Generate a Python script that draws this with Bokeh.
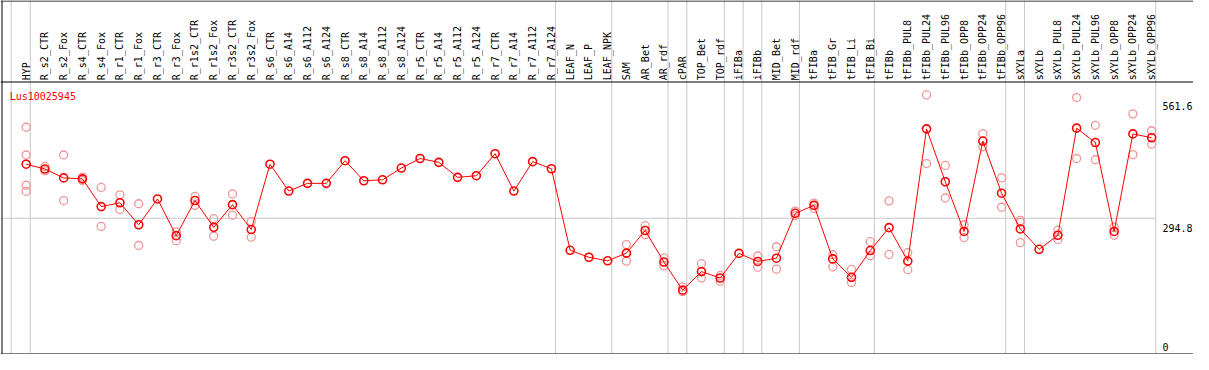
import numpy as np
from bokeh.plotting import figure
from bokeh.models import Range1d
from bokeh.core.properties import value
from bokeh.embed import file_html
from bokeh.resources import INLINE

# ---------------- data ----------------
gene = "Lus10025945"
categories = [
    "HYP", "R_s2_CTR", "R_s2_Fox", "R_s4_CTR", "R_s4_Fox", "R_r1_CTR", "R_r1_Fox",
    "R_r3_CTR", "R_r3_Fox", "R_r1s2_CTR", "R_r1s2_Fox", "R_r3s2_CTR", "R_r3s2_Fox",
    "R_s6_CTR", "R_s6_A14", "R_s6_A112", "R_s6_A124", "R_s8_CTR", "R_s8_A14",
    "R_s8_A112", "R_s8_A124", "R_r5_CTR", "R_r5_A14", "R_r5_A112", "R_r5_A124",
    "R_r7_CTR", "R_r7_A14", "R_r7_A112", "R_r7_A124", "LEAF_N", "LEAF_P", "LEAF_NPK",
    "SAM", "AR_Bet", "AR_rdf", "cPAR", "TOP_Bet", "TOP_rdf", "iFIBa", "iFIBb",
    "MID_Bet", "MID_rdf", "tFIBa", "tFIB_Gr", "tFIB_Li", "tFIB_Bi", "tFIBb",
    "tFIBb_PUL8", "tFIBb_PUL24", "tFIBb_PUL96", "tFIBb_OPP8", "tFIBb_OPP24",
    "tFIBb_OPP96", "sXYLa", "sXYLb", "sXYLb_PUL8", "sXYLb_PUL24", "sXYLb_PUL96",
    "sXYLb_OPP8", "sXYLb_OPP24", "sXYLb_OPP96",
]
group_sizes = [1, 28, 3, 3, 1, 2, 1, 1, 2, 4, 7, 1, 7]

means = [
    411.7, 401.3, 382.1, 380.0, 320.0, 328.3, 280.7, 336.6, 257.1, 333.1, 275.1,
    324.2, 270.4, 411.7, 353.7, 370.3, 370.3, 419.3, 375.9, 378.0, 403.4, 424.1,
    415.8, 383.3, 386.8, 434.4, 353.7, 417.3, 401.9, 225.5, 210.4, 202.7, 219.3,
    268.3, 200.0, 139.2, 179.4, 165.5, 218.7, 201.3, 208.3, 305.5, 322.7, 206.9,
    166.9, 224.9, 274.5, 202.1, 488.2, 373.8, 266.2, 461.9, 349.0, 271.6, 227.6,
    258.0, 489.7, 458.6, 266.2, 477.3, 469.0,
]
replicates = [
    [491.7, 431.7, 366.2, 353.1], [406.9, 397.2], [431.7, 333.1], [383.7, 376.5],
    [361.4, 277.2], [345.5, 313.8], [326.2, 235.8], [], [265.4, 246.2],
    [342.0, 322.7], [293.8, 255.9], [347.5, 301.4], [287.5, 253.8],
    [], [], [], [], [], [], [], [], [], [], [], [], [], [], [], [],
    [], [], [], [237.9, 202.1], [278.7, 259.2], [208.9, 191.8], [146.3, 135.9],
    [196.5, 165.5], [171.1, 158.7], [], [213.1, 188.9], [233.1, 184.7],
    [310.3, 300.6], [327.5, 315.9], [215.8, 189.7], [184.1, 155.8], [244.1, 213.7],
    [332.4, 216.6], [220.7, 183.5], [561.6, 413.1], [409.0, 338.6], [280.7, 253.0],
    [477.9, 449.5], [382.1, 318.6], [290.2, 286.0, 242.0], [], [268.9, 248.9],
    [555.9, 424.1], [495.9, 421.4], [275.8, 258.0], [520.7, 432.4], [484.1, 455.1],
]
y_tick_values = [561.6, 294.8, 0.0]
y_tick_labels = ["561.6", "294.8", "0"]
y_axis_max = 589.6

# ---------------- layout ----------------
W, H = 1193, 354
HEADER_PX = 81.5          # pixel row of the header rule (= y_axis_max)
X0_PX, STEP_PX = 25.66, 18.758
k = (H - HEADER_PX) / y_axis_max

x_start = -X0_PX / STEP_PX
x_end = (W - X0_PX) / STEP_PX
y_end = H / k


def px_x(px):
    return (px - X0_PX) / STEP_PX


def px_y(py):
    return (H - py) / k


FONT = value("DejaVu Sans Mono")
GRID = "#c8c8c8"

p = figure(width=W, height=H, x_range=Range1d(x_start, x_end),
           y_range=Range1d(0, y_end), output_backend="svg",
           toolbar_location=None, tools="", min_border=0,
           x_axis_location=None, y_axis_location=None, title=None,
           outline_line_color=None, background_fill_color="white",
           border_fill_color="white")
p.grid.visible = False

idx = list(range(len(categories)))

# group separators
ends = np.cumsum(group_sizes) - 1
sep_x = [-0.8] + [float(e) + 0.22 for e in ends]
p.segment(x0=sep_x, x1=sep_x, y0=[0] * len(sep_x), y1=[y_end] * len(sep_x),
          line_color=GRID, line_width=1)
# mid grid line
p.segment(x0=[x_start], x1=[sep_x[-1]], y0=[y_tick_values[1]], y1=[y_tick_values[1]],
          line_color=GRID, line_width=1)

# black frame lines
p.segment(x0=[x_start, x_start, x_start], x1=[x_end, x_end, x_end],
          y0=[y_axis_max, px_y(0.5), px_y(353.5)],
          y1=[y_axis_max, px_y(0.5), px_y(353.5)],
          line_color="black", line_width=1)
p.segment(x0=[px_x(1.5)], x1=[px_x(1.5)], y0=[0], y1=[y_end],
          line_color="black", line_width=1)

# replicates
rx, ry = [], []
for i, reps in enumerate(replicates):
    for r in reps:
        rx.append(i)
        ry.append(r)
p.scatter(rx, ry, marker="circle", size=8, fill_color=None,
          line_color="#f09696", line_width=1.3)

# means
p.line(idx, means, line_color="#ff0000", line_width=1)
p.scatter(idx, means, marker="circle", size=8, fill_color=None,
          line_color="#ff0000", line_width=1.6)

# category labels (header)
p.text(x=idx, y=[px_y(79.7)] * len(idx), text=categories, angle=np.pi / 2,
       text_align="left", text_baseline="middle", text_font=FONT,
       text_font_size="10px", text_color="black")

# gene title
p.text(x=[px_x(9.2)], y=[px_y(96.4)], text=[gene], text_align="left",
       text_baseline="alphabetic", text_font=FONT, text_font_size="10px",
       text_color="#ff0000")

# right value labels
label_offsets_px = [11.5, 9.3, -8.0]
ly = [px_y(H - v * k + off) for v, off in zip(y_tick_values, label_offsets_px)]
p.text(x=[px_x(1162.0)] * 3, y=ly, text=y_tick_labels, text_align="left",
       text_baseline="alphabetic", text_font=FONT, text_font_size="10px",
       text_color="black")

open("out.html", "w").write(file_html(p, INLINE))
